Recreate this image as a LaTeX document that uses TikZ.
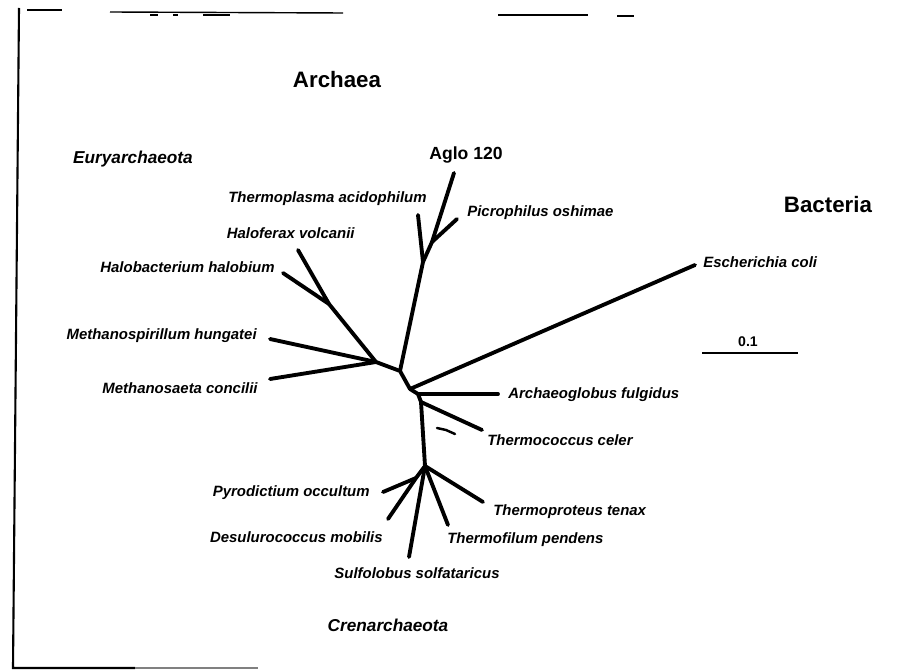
\documentclass[tikz,border=0pt]{standalone}
\usepackage{fontspec}
\setmainfont{Liberation Sans}
\begin{document}
\begin{tikzpicture}[x=0.02cm,y=-0.02cm,
  branch/.style={line width=2.2pt,line cap=round,line join=round},
  taxon/.style={font=\fontsize{8.5}{10}\selectfont\bfseries\itshape,inner sep=0pt},
  clade/.style={font=\fontsize{9.8}{12}\selectfont\bfseries\itshape,inner sep=0pt},
  kingdom/.style={font=\fontsize{12.7}{15}\selectfont\bfseries,inner sep=0pt}]
  \useasboundingbox (0,0) rectangle (910,672);
  % frame from the scan
  \draw[line width=1.2pt] (19,8) -- (13,668) -- (135,668);
  \draw[line width=0.6pt,gray] (135,668) -- (258,668);
  \draw[line width=0.8pt] (27,10) -- (62,10);
  \draw[line width=0.8pt] (110,12) -- (343,13);
  \draw[line width=0.6pt] (150,15) -- (158,15) (173,15) -- (178,15) (203,15) -- (230,15);
  \draw[line width=0.8pt] (498,15) -- (588,15);
  \draw[line width=0.8pt] (617,16) -- (634,16);

  % inner nodes
  \coordinate (eury) at (400,371);
  \coordinate (meth) at (376,362);
  \coordinate (halo) at (329,304);
  \coordinate (thpl) at (423,262);
  \coordinate (aglo) at (432,242);
  \coordinate (root) at (410,389);
  \coordinate (argl) at (418,394);
  \coordinate (thco) at (421,402);
  \coordinate (cren) at (425,466);
  \coordinate (desu) at (416,478);
  % tips
  \coordinate (hbT) at (283,273);
  \coordinate (hvT) at (298,250);
  \coordinate (msT) at (270,339);
  \coordinate (mcT) at (270,379);
  \coordinate (taT) at (418,215);
  \coordinate (agT) at (454,173);
  \coordinate (poT) at (457,219);
  \coordinate (ecT) at (695,265);
  \coordinate (afT) at (498,394);
  \coordinate (tcT) at (482,430);
  \coordinate (pyT) at (383,492);
  \coordinate (dmT) at (388,519);
  \coordinate (ssT) at (409,557);
  \coordinate (tfT) at (448,525);
  \coordinate (ttT) at (483,502);

  % labels
  \node[kingdom] (archaea) at (337,80) {Archaea};
  \node[kingdom] (bacteria) at (828,205) {Bacteria};
  \node[clade] (euryarch) at (133,159) {Euryarchaeota};
  \node[clade] (crenarch) at (388,625) {Crenarchaeota};
  \node[font=\fontsize{10}{12}\selectfont\bfseries,inner sep=0pt,anchor=west] (ag) at (429,155) {Aglo 120};
  \node[taxon,anchor=east] (ta) at (427,199) {Thermoplasma acidophilum};
  \node[taxon,anchor=west] (po) at (467,213) {Picrophilus oshimae};
  \node[taxon,anchor=east] (hv) at (355,233) {Haloferax volcanii};
  \node[taxon,anchor=east] (hb) at (275,267) {Halobacterium halobium};
  \node[taxon,anchor=west] (ec) at (703,262) {Escherichia coli};
  \node[taxon,anchor=east] (ms) at (257,336) {Methanospirillum hungatei};
  \node[taxon,anchor=east] (mc) at (258,388) {Methanosaeta concilii};
  \node[taxon,anchor=west] (af) at (508,395) {Archaeoglobus fulgidus};
  \node[taxon,anchor=west] (tc) at (487,440) {Thermococcus celer};
  \node[taxon,anchor=east] (py) at (370,493) {Pyrodictium occultum};
  \node[taxon,anchor=west] (tt) at (493,512) {Thermoproteus tenax};
  \node[taxon,anchor=east] (dm) at (383,537) {Desulurococcus mobilis};
  \node[taxon,anchor=west] (tf) at (447,540) {Thermofilum pendens};
  \node[taxon] (ss) at (417,573) {Sulfolobus solfataricus};

  % tree
  \draw[branch] (hbT) -- (halo) -- (meth) -- (eury) -- (root);
  \draw[branch] (hvT) -- (halo);
  \draw[branch] (msT) -- (meth);
  \draw[branch] (mcT) -- (meth);
  \draw[branch] (eury) -- (thpl) -- (aglo) -- (agT);
  \draw[branch] (taT) -- (thpl);
  \draw[branch] (poT) -- (aglo);
  \draw[branch] (root) -- (ecT);
  \draw[branch] (root) -- (argl) -- (thco) -- (cren);
  \draw[branch] (argl) -- (afT);
  \draw[branch] (thco) -- (tcT);
  \draw[branch] (cren) -- (desu) -- (dmT);
  \draw[branch] (pyT) -- (desu);
  \draw[branch] (cren) -- (ssT);
  \draw[branch] (cren) -- (tfT);
  \draw[branch] (cren) -- (ttT);
  \draw[line width=1.4pt,line cap=round] (437,428) -- (446,430) -- (455,434);

  % scale bar
  \coordinate (sbL) at (702,353);
  \coordinate (sbR) at (798,353);
  \draw[line width=1.2pt] (sbL) -- (sbR);
  \node[font=\fontsize{8}{10}\selectfont\bfseries,inner sep=0pt] (sb) at (748,342) {0.1};
\end{tikzpicture}
\end{document}
